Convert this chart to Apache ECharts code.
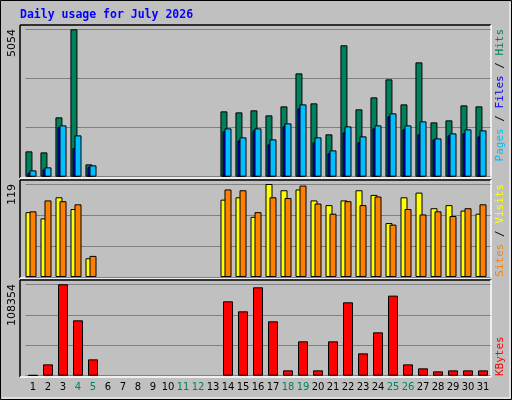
<!DOCTYPE html>
<html><head><meta charset="utf-8">
<script src="https://cdn.jsdelivr.net/npm/echarts@6/dist/echarts.min.js"></script>
<style>html,body{margin:0;padding:0;background:#C0C0C0}#c{width:512px;height:400px}</style>
</head><body><div id="c"></div>
<script>
const days = ['1','2','3','4','5','6','7','8','9','10','11','12','13','14','15','16','17','18','19','20','21','22','23','24','25','26','27','28','29','30','31'];
const weekend = ['4','5','11','12','18','19','25','26'];
const hits  = [869,834,2035,5054,423,null,null,null,null,null,null,null,null,2240,2206,2275,2103,2412,3543,2515,1452,4505,2309,2720,3338,2480,3920,1863,1932,2446,2412];
const files = [137,251,1703,983,331,null,null,null,null,null,null,null,null,1554,1246,1589,1109,1726,2343,1177,800,1520,1177,1657,2069,1623,1452,1280,1417,1486,1383];
const pages = [217,320,1760,1417,389,null,null,null,null,null,null,null,null,1657,1349,1657,1280,1828,2480,1349,903,1726,1383,1760,2172,1760,1897,1314,1486,1623,1589];
const visits = [83,75,102,87,24,null,null,null,null,null,null,null,null,99,102,77,119,111,112,98,92,98,111,105,69,102,108,88,92,85,81];
const sites  = [84,98,97,93,27,null,null,null,null,null,null,null,null,112,111,83,102,101,117,94,81,97,92,103,67,87,80,84,78,88,93];
const kbytes = [800,13447,108354,65650,19380,null,null,null,null,null,null,null,null,88200,76330,104800,64470,6330,40730,6330,40730,87000,26500,51400,94920,13447,8700,5140,6330,6330,6330];
const maxes = [5054,119,108354];

const chart = echarts.init(document.getElementById('c'));
const L = 25.5, R = 21.5;
const grids = [
  {left:L,right:R,top:29.3,bottom:223.3},
  {left:L,right:R,top:184,bottom:123},
  {left:L,right:R,top:284.3,bottom:24.3}
];
const xAxes = grids.map((g,i)=>({gridIndex:i,type:'category',data:days,boundaryGap:true,
  axisLine:{show:false},axisTick:{show:false},
  axisLabel:{show:i===2,fontFamily:'DejaVu Sans',fontSize:10,margin:7,interval:0,
    color:(v)=>weekend.includes(v)?'#00805C':'#000'}}));
const yAxes = maxes.map((m,i)=>({gridIndex:i,type:'value',min:0,max:m,interval:m/3,
  axisLine:{show:false},axisTick:{show:false},axisLabel:{show:false},
  splitLine:{show:true,lineStyle:{color:'#808080',width:1}}}));
const bs = {borderColor:'#000',borderWidth:1};
function bar(name,data,gi,color,w,gap){return {name,type:'bar',xAxisIndex:gi,yAxisIndex:gi,data,barWidth:w,barGap:gap,
  itemStyle:Object.assign({color},bs),silent:true,animation:false};}
const series = [
  bar('Hits',hits,0,'#00805C',7,'-71%'),
  bar('Files',files,0,'#0000FF',7,'-71%'),
  bar('Pages',pages,0,'#00BFFF',7,'-71%'),
  bar('p1',[],0,'transparent',7,'-71%'),
  bar('p2',[],0,'transparent',7,'-71%'),
  bar('Visits',visits,1,'#FFFF00',7,'-43%'),
  bar('Sites',sites,1,'#FF8000',7,'-43%'),
  bar('p3',[],1,'transparent',7,'-43%'),
  bar('KBytes',kbytes,2,'#FF0000',10,'0%')
];
function frame(y1,y2){return [
  {type:'line',shape:{x1:20,y1:y1,x2:491,y2:y1},style:{stroke:'#000',lineWidth:1.5},z:-1},
  {type:'line',shape:{x1:20,y1:y1,x2:20,y2:y2},style:{stroke:'#000',lineWidth:1.5},z:-1},
  {type:'line',shape:{x1:20,y1:y2,x2:491,y2:y2},style:{stroke:'#fff',lineWidth:1.5},z:-1},
  {type:'line',shape:{x1:491,y1:y1,x2:491,y2:y2},style:{stroke:'#fff',lineWidth:1.5},z:-1}];}
const mono='DejaVu Sans Mono';
const f11='11px "'+mono+'"';
const graphic = [
  {type:'rect',shape:{x:0.5,y:0.5,width:511,height:399},style:{fill:'none',stroke:'#000',lineWidth:1},z:-2},
  {type:'line',shape:{x1:2,y1:398,x2:510,y2:398},style:{stroke:'#fff',lineWidth:1},z:-2},
  {type:'line',shape:{x1:510,y1:2,x2:510,y2:398},style:{stroke:'#fff',lineWidth:1},z:-2},
  ...frame(25,178),...frame(180,278),...frame(280,377),
  {type:'text',x:20,y:15,style:{text:'Daily usage for July 2026',fill:'#0000FF',font:'bold 11.5px "'+mono+'"',textVerticalAlign:'middle'}},
  {type:'text',x:12,y:29,rotation:Math.PI/2,style:{text:String(maxes[0]),fill:'#000',font:'11px "DejaVu Sans"',textAlign:'right',textVerticalAlign:'middle'}},
  {type:'text',x:12,y:184,rotation:Math.PI/2,style:{text:String(maxes[1]),fill:'#000',font:'11px "DejaVu Sans"',textAlign:'right',textVerticalAlign:'middle'}},
  {type:'text',x:12,y:284,rotation:Math.PI/2,style:{text:String(maxes[2]),fill:'#000',font:'11px "DejaVu Sans"',textAlign:'right',textVerticalAlign:'middle'}},
  {type:'text',x:500,y:29,rotation:Math.PI/2,style:{text:'{a|Pages}{s| / }{b|Files}{s| / }{c|Hits}',textAlign:'right',textVerticalAlign:'middle',
    font:f11,rich:{a:{fill:'#00BFFF',font:f11},b:{fill:'#0000FF',font:f11},c:{fill:'#00805C',font:f11},s:{fill:'#000',font:f11}}}},
  {type:'text',x:500,y:184,rotation:Math.PI/2,style:{text:'{a|Sites}{s| / }{b|Visits}',textAlign:'right',textVerticalAlign:'middle',
    font:f11,rich:{a:{fill:'#FF8000',font:f11},b:{fill:'#FFFF00',font:f11},s:{fill:'#000',font:f11}}}},
  {type:'text',x:500,y:376,rotation:Math.PI/2,style:{text:'KBytes',fill:'#FF0000',font:f11,textAlign:'left',textVerticalAlign:'middle'}}
];
chart.setOption({animation:false,backgroundColor:'#C0C0C0',grid:grids,xAxis:xAxes,yAxis:yAxes,series,graphic});
</script></body></html>
